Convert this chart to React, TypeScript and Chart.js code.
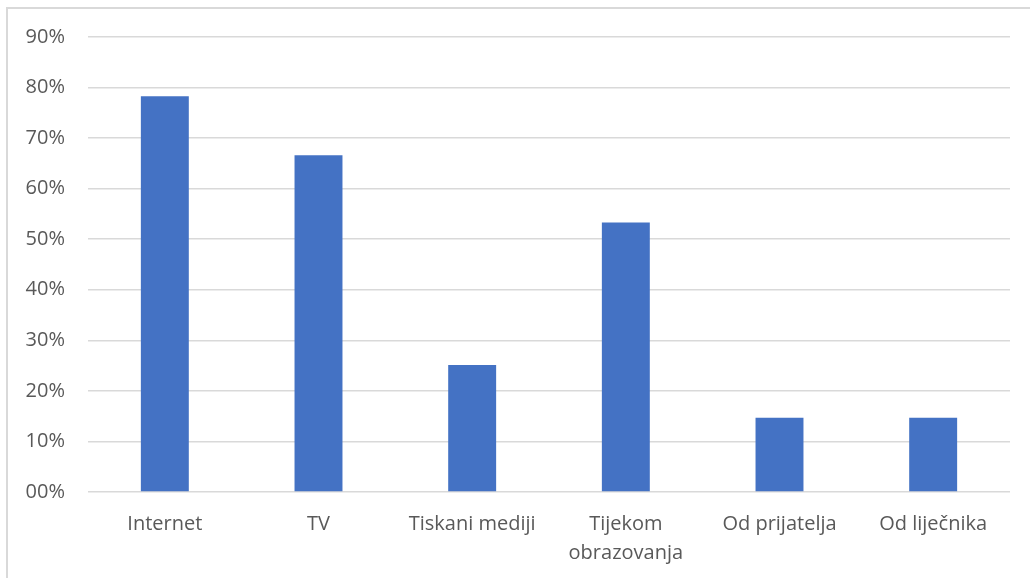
import React, { useEffect, useRef } from "react";
import { Chart, registerables } from "chart.js";

Chart.register(...registerables);

const categories: (string | string[])[] = [
  "Internet",
  "TV",
  "Tiskani mediji",
  ["Tijekom", "obrazovanja"],
  "Od prijatelja",
  "Od liječnika",
];
const values = [78.3, 66.6, 25.1, 53.3, 14.7, 14.7];
const yTicks = [0, 10, 20, 30, 40, 50, 60, 70, 80, 90];

export default function App() {
  const ref = useRef<HTMLCanvasElement>(null);

  useEffect(() => {
    if (!ref.current) return;
    const chart = new Chart(ref.current, {
      type: "bar",
      data: {
        labels: categories,
        datasets: [
          {
            data: values,
            backgroundColor: "#4472c4",
            borderWidth: 0,
            barPercentage: 0.312,
            categoryPercentage: 1,
          },
        ],
      },
      options: {
        animation: false,
        responsive: false,
        maintainAspectRatio: false,
        layout: { padding: { top: 37, right: 20, bottom: 0, left: 0 } },
        plugins: { legend: { display: false }, tooltip: { enabled: false } },
        scales: {
          x: {
            grid: { display: false, drawTicks: false },
            border: { display: false },
            ticks: {
              color: "#595959",
              font: { family: "'Open Sans', sans-serif", size: 20, lineHeight: 1.45 },
              padding: 18,
              maxRotation: 0,
              autoSkip: false,
            },
            afterFit: (s: any) => {
              s.height = 86;
            },
          },
          y: {
            min: 0,
            max: 90,
            afterBuildTicks: (s: any) => {
              s.ticks = yTicks.map((v) => ({ value: v }));
            },
            grid: { color: "#d9d9d9", lineWidth: 1.5, drawTicks: false },
            border: { display: false },
            ticks: {
              color: "#595959",
              font: { family: "'Open Sans', sans-serif", size: 20 },
              padding: 23,
              callback: (v: any) => (v === 0 ? "00%" : v + "%"),
            },
            afterFit: (s: any) => {
              s.width = 88;
            },
          },
        },
      },
    });
    return () => chart.destroy();
  }, []);

  return (
    <div style={{ position: "fixed", left: 0, top: 0, width: 1030, height: 578, background: "#fff" }}>
      <div
        style={{
          position: "absolute",
          left: 6,
          top: 7,
          width: 1100,
          height: 700,
          borderLeft: "2px solid #d9d9d9",
          borderTop: "2px solid #d9d9d9",
        }}
      />
      <canvas ref={ref} width={1030} height={578} style={{ position: "absolute", left: 0, top: 0 }} />
    </div>
  );
}
